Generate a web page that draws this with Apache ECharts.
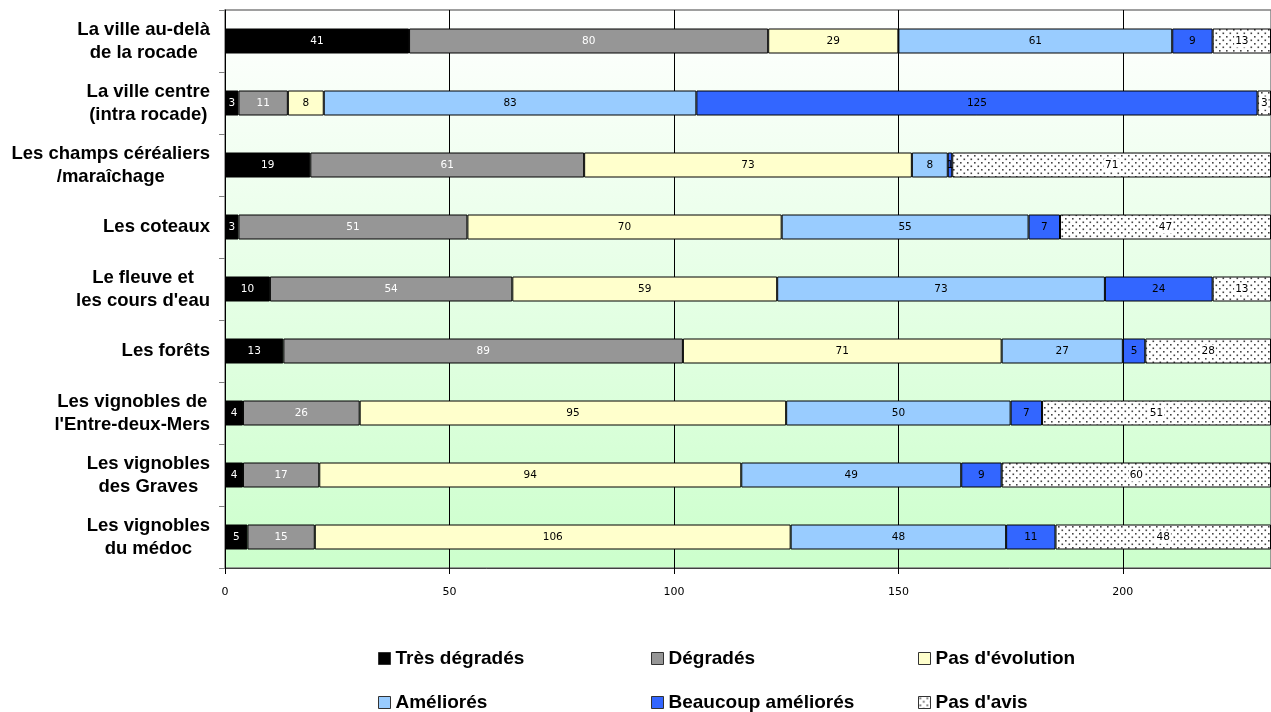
<!DOCTYPE html>
<html><head><meta charset="utf-8">
<script src="https://cdn.jsdelivr.net/npm/echarts@6/dist/echarts.min.js"></script>
<style>html,body{margin:0;padding:0;background:#fff}#c{width:1271px;height:712px}</style>
</head><body><div id="c"></div>
<script>
const categories = [
  "La ville au-delà\nde la rocade",
  "La ville centre\n(intra rocade)",
  "Les champs céréaliers\n/maraîchage",
  "Les coteaux",
  "Le fleuve et\nles cours d'eau",
  "Les forêts",
  "Les vignobles de\nl'Entre-deux-Mers",
  "Les vignobles\ndes Graves",
  "Les vignobles\ndu médoc"
];
const seriesNames = ["Très dégradés", "Dégradés", "Pas d'évolution", "Améliorés", "Beaucoup améliorés", "Pas d'avis"];
const tresDegrades      = [41, 3, 19, 3, 10, 13, 4, 4, 5];
const degrades          = [80, 11, 61, 51, 54, 89, 26, 17, 15];
const pasEvolution      = [29, 8, 73, 70, 59, 71, 95, 94, 106];
const ameliores         = [61, 83, 8, 55, 73, 27, 50, 49, 48];
const beaucoupAmeliores = [9, 125, 1, 7, 24, 5, 7, 9, 11];
const pasAvis           = [13, 3, 71, 47, 13, 28, 51, 60, 48];
const xTickStep = 50;

// dotted pattern
const tile = document.createElement('canvas');
tile.width = 7; tile.height = 7;
const tc = tile.getContext('2d');
tc.fillStyle = '#ffffff'; tc.fillRect(0, 0, 7, 7);
tc.fillStyle = '#444444';
tc.fillRect(1, 1, 1.6, 1.6);
tc.fillRect(4.5, 4.5, 1.6, 1.6);
const dotted = { image: tile, repeat: 'repeat' };

const allValues = [tresDegrades, degrades, pasEvolution, ameliores, beaucoupAmeliores, pasAvis];
const colors = ['#000000', '#969696', '#ffffcc', '#99ccff', '#3366ff', dotted];
const labelColors = ['#ffffff', '#ffffff', '#000000', '#000000', '#000000', '#000000'];
const totals = categories.map((_, i) => allValues.reduce((s, a) => s + a[i], 0));
const xMax = Math.max(...totals);

const series = allValues.map((vals, k) => ({
  name: seriesNames[k],
  type: 'bar',
  stack: 'total',
  barWidth: 25,
  data: vals,
  itemStyle: { color: colors[k], borderColor: '#000', borderWidth: 1 },
  label: {
    show: true, position: 'inside',
    color: labelColors[k],
    fontFamily: 'DejaVu Sans', fontSize: 10.5,
    backgroundColor: k === 5 ? '#ffffff' : 'transparent',
    padding: k === 5 ? [1, 1] : 0
  },
  emphasis: { disabled: true }
}));

const legendBase = {
  orient: 'vertical', top: 649, height: 80, padding: 0,
  itemWidth: 12, itemHeight: 12, itemGap: 25,
  icon: 'rect',
  itemStyle: { borderColor: '#333', borderWidth: 1 },
  textStyle: { fontFamily: 'Liberation Sans', fontWeight: 'bold', fontSize: 19, color: '#000', lineHeight: 12 },
  selectedMode: false
};

const chart = echarts.init(document.getElementById('c'), null, { renderer: 'canvas' });
chart.setOption({
  animation: false,
  backgroundColor: '#ffffff',
  grid: {
    left: 225, right: -5, top: 10, bottom: 144,
    show: true,
    borderColor: '#808080', borderWidth: 1.5,
    backgroundColor: new echarts.graphic.LinearGradient(0, 0, 0, 1, [
      { offset: 0, color: '#ffffff' }, { offset: 1, color: '#ccffcc' }
    ])
  },
  xAxis: {
    type: 'value', min: 0, max: xMax, interval: xTickStep,
    axisLine: { show: true, lineStyle: { color: '#404040', width: 1 } },
    axisTick: { show: true, length: 6, lineStyle: { color: '#000' } },
    axisLabel: { margin: 19, fontFamily: 'DejaVu Sans', fontSize: 11, color: '#000', showMaxLabel: false },
    splitLine: { show: true, lineStyle: { color: '#000', width: 1 } }
  },
  yAxis: {
    type: 'category', data: categories, inverse: true,
    axisLine: { show: true, lineStyle: { color: '#000', width: 1 } },
    axisTick: { show: true, length: 6, lineStyle: { color: '#808080' } },
    axisLabel: {
      margin: 15, color: '#000', fontFamily: 'Liberation Sans', fontWeight: 'bold', fontSize: 18.5, lineHeight: 23,
      formatter: v => v.split('\n').map(l => '{c|' + l + '}').join('\n'),
      rich: { c: { align: 'center', fontFamily: 'Liberation Sans', fontWeight: 'bold', fontSize: 18.5, lineHeight: 23, color: '#000' } }
    },
    splitLine: { show: false }
  },
  legend: [
    Object.assign({}, legendBase, { left: 378, data: [seriesNames[0], seriesNames[3]] }),
    Object.assign({}, legendBase, { left: 651, data: [seriesNames[1], seriesNames[4]] }),
    Object.assign({}, legendBase, { left: 918, data: [seriesNames[2], seriesNames[5]] })
  ],
  series: series
});
</script>
</body></html>
